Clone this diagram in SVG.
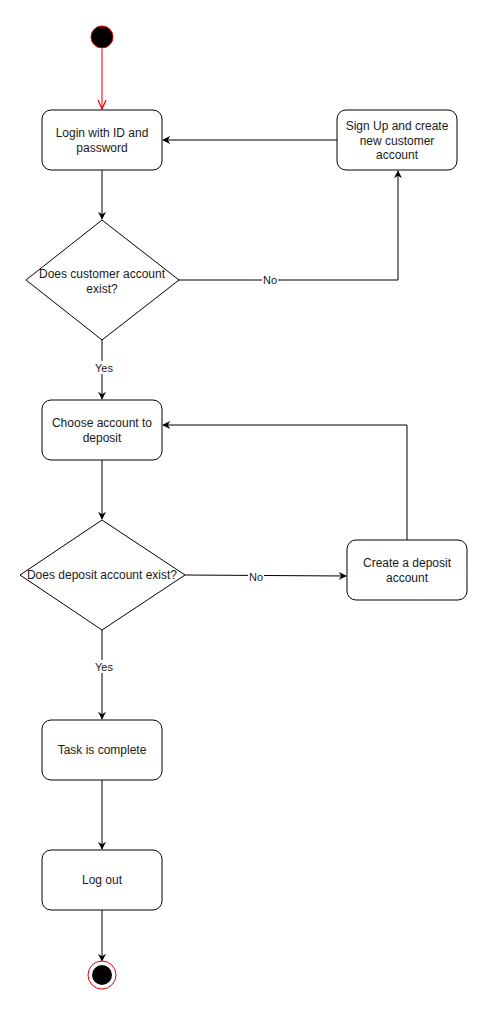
<svg xmlns="http://www.w3.org/2000/svg" width="488" height="1012" viewBox="0 0 488 1012">
<style>
.n{fill:#fff;stroke:#000;stroke-width:1}
.t{font-family:"Liberation Sans",Arial,sans-serif;font-size:12px;fill:#1a1a1a;text-anchor:middle}
.e{fill:none;stroke:#000;stroke-width:1}
.lb{font-family:"Liberation Sans",Arial,sans-serif;font-size:11px;fill:#1a1a1a;text-anchor:middle}
</style>
<defs>
<marker id="a" viewBox="0 0 10 10" refX="9" refY="5" markerWidth="8" markerHeight="8" markerUnits="userSpaceOnUse" orient="auto">
<path d="M0,0 L10,5 L0,10 L3,5 Z" fill="#000"/>
</marker>
<marker id="o" viewBox="0 0 10 10" refX="9" refY="5" markerWidth="10" markerHeight="10" markerUnits="userSpaceOnUse" orient="auto">
<path d="M0,1 L9,5 L0,9" fill="none" stroke="#e00000" stroke-width="1.2"/>
</marker>
</defs>
<rect width="488" height="1012" fill="#fff"/>
<g id="connectors">
<path class="e" d="M102,49 V109" stroke="#e00000" style="stroke:#e00000" marker-end="url(#o)"/>
<path class="e" d="M102,170 V219" marker-end="url(#a)"/>
<path class="e" d="M337,140 H163" marker-end="url(#a)"/>
<path class="e" d="M179,280 H398 V171" marker-end="url(#a)"/>
<path class="e" d="M102,340 V399" marker-end="url(#a)"/>
<path class="e" d="M102,460 V519" marker-end="url(#a)"/>
<path class="e" d="M185,575 L346,576" marker-end="url(#a)"/>
<path class="e" d="M407,540 V425 H163" marker-end="url(#a)"/>
<path class="e" d="M102,630 V719" marker-end="url(#a)"/>
<path class="e" d="M102,780 V849" marker-end="url(#a)"/>
<path class="e" d="M102,910 V961" marker-end="url(#a)"/>
<rect x="262" y="273" width="16" height="13" fill="#fff"/>
<text class="lb" x="270" y="284">No</text>
<rect x="94" y="361" width="20" height="13" fill="#fff"/>
<text class="lb" x="104" y="372">Yes</text>
<rect x="248" y="570" width="16" height="13" fill="#fff"/>
<text class="lb" x="256" y="581">No</text>
<rect x="94" y="660" width="20" height="13" fill="#fff"/>
<text class="lb" x="104" y="671">Yes</text>
</g>
<g id="start"><circle cx="102" cy="37" r="11" fill="#000" stroke="#e00000" stroke-width="1"/></g>
<g id="login"><rect class="n" x="42" y="110" width="120" height="60" rx="9"/>
<text class="t" x="102" y="137">Login with ID and</text><text class="t" x="102" y="152">password</text></g>
<g id="signup"><rect class="n" x="337" y="110" width="120" height="60" rx="9"/>
<text class="t" x="397" y="130">Sign Up and create</text><text class="t" x="397" y="145">new customer</text><text class="t" x="397" y="159">account</text></g>
<g id="decision1"><path class="n" d="M102,220 L179,280 L102,340 L26,280 Z"/>
<text class="t" x="102" y="278">Does customer account</text><text class="t" x="102" y="293">exist?</text></g>
<g id="choose"><rect class="n" x="42" y="400" width="120" height="60" rx="9"/>
<text class="t" x="102" y="427">Choose account to</text><text class="t" x="102" y="442">deposit</text></g>
<g id="decision2"><path class="n" d="M102,520 L185,575 L102,630 L20,575 Z"/>
<text class="t" x="102" y="579">Does deposit account exist?</text></g>
<g id="create"><rect class="n" x="347" y="540" width="120" height="60" rx="9"/>
<text class="t" x="407" y="567">Create a deposit</text><text class="t" x="407" y="582">account</text></g>
<g id="task"><rect class="n" x="42" y="720" width="120" height="60" rx="9"/>
<text class="t" x="102" y="754">Task is complete</text></g>
<g id="logout"><rect class="n" x="42" y="850" width="120" height="60" rx="9"/>
<text class="t" x="102" y="884">Log out</text></g>
<g id="end"><circle cx="102" cy="975" r="14" fill="#fff" stroke="#e00000" stroke-width="1"/><circle cx="102" cy="975" r="10" fill="#000"/></g>
</svg>
